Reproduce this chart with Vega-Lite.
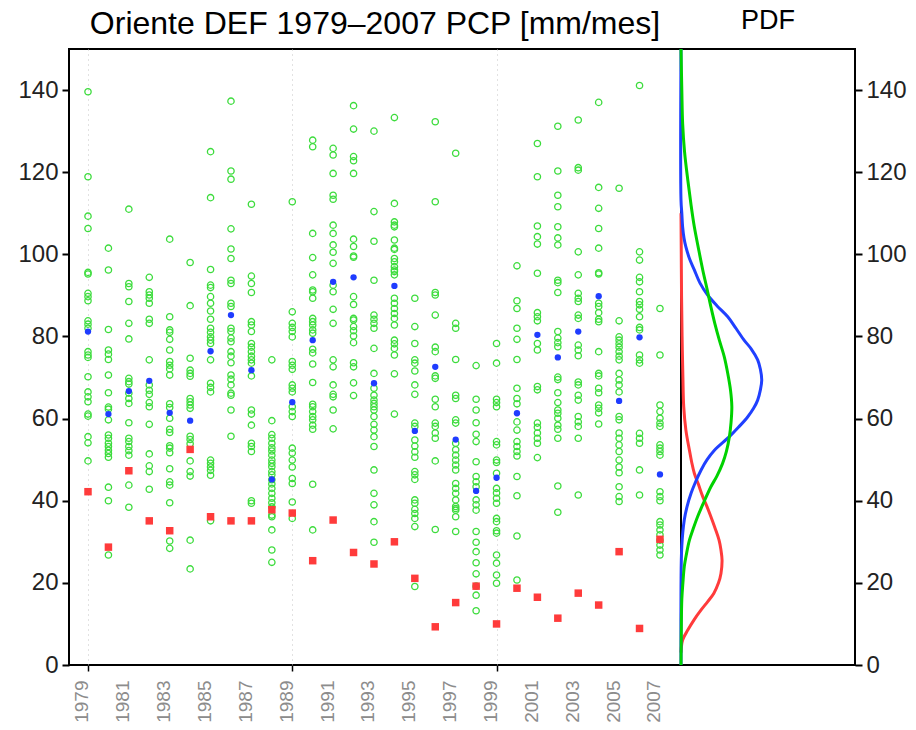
{
"$schema": "https://vega.github.io/schema/vega-lite/v6.json",
"background": "white",
"padding": {"left": 16, "top": 6, "right": 4, "bottom": 4},
"bounds": "flush",
"spacing": 0,
"config": {"view": {"stroke": "black", "strokeWidth": 2}, "font": "Liberation Sans"},
"datasets": {
"pts": [
{"x":1979,"v":139.6},{"x":1979,"v":118.9},{"x":1979,"v":109.3},{"x":1979,"v":106.3},{"x":1979,"v":95.6},{"x":1979,"v":95.2},{"x":1979,"v":90.5},{"x":1979,"v":89.7},{"x":1979,"v":88.7},{"x":1979,"v":83.8},{"x":1979,"v":83.0},{"x":1979,"v":82.0},{"x":1979,"v":76.3},{"x":1979,"v":75.5},{"x":1979,"v":74.9},{"x":1979,"v":70.2},{"x":1979,"v":66.5},{"x":1979,"v":65.3},{"x":1979,"v":64.1},{"x":1979,"v":61.1},{"x":1979,"v":60.6},{"x":1979,"v":55.6},{"x":1979,"v":54.1},{"x":1979,"v":49.7},
{"x":1980,"v":101.5},{"x":1980,"v":96.2},{"x":1980,"v":81.7},{"x":1980,"v":76.7},{"x":1980,"v":75.7},{"x":1980,"v":74.4},{"x":1980,"v":70.6},{"x":1980,"v":66.3},{"x":1980,"v":62.8},{"x":1980,"v":62.3},{"x":1980,"v":59.7},{"x":1980,"v":56.0},{"x":1980,"v":55.2},{"x":1980,"v":54.0},{"x":1980,"v":53.2},{"x":1980,"v":52.3},{"x":1980,"v":51.5},{"x":1980,"v":50.6},{"x":1980,"v":43.3},{"x":1980,"v":40.0},{"x":1980,"v":26.8},
{"x":1981,"v":111.0},{"x":1981,"v":92.9},{"x":1981,"v":92.1},{"x":1981,"v":88.5},{"x":1981,"v":83.2},{"x":1981,"v":79.4},{"x":1981,"v":69.8},{"x":1981,"v":69.0},{"x":1981,"v":68.4},{"x":1981,"v":66.2},{"x":1981,"v":64.9},{"x":1981,"v":63.7},{"x":1981,"v":59.0},{"x":1981,"v":55.2},{"x":1981,"v":54.4},{"x":1981,"v":53.2},{"x":1981,"v":52.2},{"x":1981,"v":51.1},{"x":1981,"v":43.8},{"x":1981,"v":38.4},
{"x":1982,"v":94.4},{"x":1982,"v":90.9},{"x":1982,"v":90.1},{"x":1982,"v":89.3},{"x":1982,"v":88.1},{"x":1982,"v":84.2},{"x":1982,"v":83.2},{"x":1982,"v":74.3},{"x":1982,"v":68.2},{"x":1982,"v":66.9},{"x":1982,"v":65.9},{"x":1982,"v":63.9},{"x":1982,"v":62.9},{"x":1982,"v":58.6},{"x":1982,"v":51.4},{"x":1982,"v":48.5},{"x":1982,"v":47.1},{"x":1982,"v":42.8},
{"x":1983,"v":103.7},{"x":1983,"v":84.8},{"x":1983,"v":81.6},{"x":1983,"v":81.0},{"x":1983,"v":79.3},{"x":1983,"v":76.7},{"x":1983,"v":73.9},{"x":1983,"v":73.0},{"x":1983,"v":72.1},{"x":1983,"v":70.6},{"x":1983,"v":63.6},{"x":1983,"v":62.7},{"x":1983,"v":60.1},{"x":1983,"v":57.4},{"x":1983,"v":56.6},{"x":1983,"v":53.4},{"x":1983,"v":52.8},{"x":1983,"v":51.7},{"x":1983,"v":47.8},{"x":1983,"v":44.6},{"x":1983,"v":43.8},{"x":1983,"v":39.5},{"x":1983,"v":30.2},{"x":1983,"v":28.4},
{"x":1984,"v":98.0},{"x":1984,"v":87.5},{"x":1984,"v":74.7},{"x":1984,"v":71.8},{"x":1984,"v":71.0},{"x":1984,"v":70.3},{"x":1984,"v":64.9},{"x":1984,"v":64.1},{"x":1984,"v":63.3},{"x":1984,"v":62.5},{"x":1984,"v":55.7},{"x":1984,"v":54.9},{"x":1984,"v":53.9},{"x":1984,"v":49.7},{"x":1984,"v":47.1},{"x":1984,"v":46.0},{"x":1984,"v":30.4},{"x":1984,"v":23.4},
{"x":1985,"v":125.0},{"x":1985,"v":113.8},{"x":1985,"v":96.3},{"x":1985,"v":92.5},{"x":1985,"v":91.9},{"x":1985,"v":89.7},{"x":1985,"v":88.1},{"x":1985,"v":86.2},{"x":1985,"v":84.2},{"x":1985,"v":82.0},{"x":1985,"v":81.0},{"x":1985,"v":79.9},{"x":1985,"v":79.1},{"x":1985,"v":78.3},{"x":1985,"v":74.3},{"x":1985,"v":68.6},{"x":1985,"v":67.6},{"x":1985,"v":66.5},{"x":1985,"v":49.9},{"x":1985,"v":49.1},{"x":1985,"v":48.2},{"x":1985,"v":47.4},{"x":1985,"v":46.2},{"x":1985,"v":35.1},
{"x":1986,"v":137.3},{"x":1986,"v":120.3},{"x":1986,"v":118.3},{"x":1986,"v":106.2},{"x":1986,"v":101.3},{"x":1986,"v":99.0},{"x":1986,"v":93.7},{"x":1986,"v":92.9},{"x":1986,"v":88.1},{"x":1986,"v":87.3},{"x":1986,"v":82.0},{"x":1986,"v":81.2},{"x":1986,"v":79.6},{"x":1986,"v":78.7},{"x":1986,"v":76.3},{"x":1986,"v":75.2},{"x":1986,"v":73.6},{"x":1986,"v":70.6},{"x":1986,"v":69.6},{"x":1986,"v":68.2},{"x":1986,"v":66.2},{"x":1986,"v":65.7},{"x":1986,"v":62.1},{"x":1986,"v":55.7},
{"x":1987,"v":112.2},{"x":1987,"v":94.7},{"x":1987,"v":92.9},{"x":1987,"v":90.7},{"x":1987,"v":83.6},{"x":1987,"v":82.8},{"x":1987,"v":81.2},{"x":1987,"v":78.3},{"x":1987,"v":77.4},{"x":1987,"v":76.3},{"x":1987,"v":75.2},{"x":1987,"v":74.3},{"x":1987,"v":73.5},{"x":1987,"v":70.4},{"x":1987,"v":62.1},{"x":1987,"v":61.1},{"x":1987,"v":58.4},{"x":1987,"v":54.0},{"x":1987,"v":53.2},{"x":1987,"v":52.0},{"x":1987,"v":40.0},{"x":1987,"v":39.4},
{"x":1988,"v":74.3},{"x":1988,"v":59.5},{"x":1988,"v":56.1},{"x":1988,"v":55.2},{"x":1988,"v":54.0},{"x":1988,"v":52.9},{"x":1988,"v":52.1},{"x":1988,"v":51.1},{"x":1988,"v":49.9},{"x":1988,"v":49.1},{"x":1988,"v":48.3},{"x":1988,"v":47.1},{"x":1988,"v":46.3},{"x":1988,"v":45.1},{"x":1988,"v":44.1},{"x":1988,"v":43.0},{"x":1988,"v":41.8},{"x":1988,"v":40.6},{"x":1988,"v":39.5},{"x":1988,"v":38.5},{"x":1988,"v":36.5},{"x":1988,"v":36.1},{"x":1988,"v":32.9},{"x":1988,"v":28.0},{"x":1988,"v":25.0},
{"x":1989,"v":112.8},{"x":1989,"v":86.0},{"x":1989,"v":83.2},{"x":1989,"v":82.2},{"x":1989,"v":81.2},{"x":1989,"v":79.9},{"x":1989,"v":73.9},{"x":1989,"v":73.0},{"x":1989,"v":72.0},{"x":1989,"v":68.2},{"x":1989,"v":67.4},{"x":1989,"v":66.5},{"x":1989,"v":62.9},{"x":1989,"v":61.7},{"x":1989,"v":60.5},{"x":1989,"v":52.8},{"x":1989,"v":51.6},{"x":1989,"v":49.9},{"x":1989,"v":48.2},{"x":1989,"v":45.4},{"x":1989,"v":44.2},{"x":1989,"v":39.7},{"x":1989,"v":35.7},
{"x":1990,"v":127.8},{"x":1990,"v":126.2},{"x":1990,"v":105.1},{"x":1990,"v":99.2},{"x":1990,"v":95.0},{"x":1990,"v":91.3},{"x":1990,"v":90.9},{"x":1990,"v":89.3},{"x":1990,"v":84.4},{"x":1990,"v":83.6},{"x":1990,"v":82.8},{"x":1990,"v":81.6},{"x":1990,"v":80.8},{"x":1990,"v":76.9},{"x":1990,"v":76.0},{"x":1990,"v":73.3},{"x":1990,"v":68.8},{"x":1990,"v":63.5},{"x":1990,"v":62.9},{"x":1990,"v":61.7},{"x":1990,"v":60.5},{"x":1990,"v":59.7},{"x":1990,"v":58.4},{"x":1990,"v":57.4},{"x":1990,"v":44.0},{"x":1990,"v":32.9},
{"x":1991,"v":125.8},{"x":1991,"v":124.2},{"x":1991,"v":119.7},{"x":1991,"v":114.4},{"x":1991,"v":113.4},{"x":1991,"v":107.1},{"x":1991,"v":105.1},{"x":1991,"v":102.3},{"x":1991,"v":100.5},{"x":1991,"v":97.8},{"x":1991,"v":92.5},{"x":1991,"v":90.9},{"x":1991,"v":86.6},{"x":1991,"v":83.2},{"x":1991,"v":74.3},{"x":1991,"v":72.6},{"x":1991,"v":68.2},{"x":1991,"v":65.9},{"x":1991,"v":65.3},{"x":1991,"v":62.1},{"x":1991,"v":57.5},
{"x":1992,"v":136.2},{"x":1992,"v":130.5},{"x":1992,"v":123.8},{"x":1992,"v":122.8},{"x":1992,"v":119.7},{"x":1992,"v":103.7},{"x":1992,"v":101.9},{"x":1992,"v":99.6},{"x":1992,"v":99.3},{"x":1992,"v":89.7},{"x":1992,"v":87.8},{"x":1992,"v":84.4},{"x":1992,"v":84.0},{"x":1992,"v":82.4},{"x":1992,"v":81.4},{"x":1992,"v":80.1},{"x":1992,"v":78.5},{"x":1992,"v":73.6},{"x":1992,"v":72.6},{"x":1992,"v":68.7},{"x":1992,"v":65.6},
{"x":1993,"v":130.0},{"x":1993,"v":110.4},{"x":1993,"v":103.2},{"x":1993,"v":93.7},{"x":1993,"v":85.2},{"x":1993,"v":84.2},{"x":1993,"v":83.2},{"x":1993,"v":82.0},{"x":1993,"v":77.1},{"x":1993,"v":71.0},{"x":1993,"v":67.4},{"x":1993,"v":65.7},{"x":1993,"v":64.5},{"x":1993,"v":63.7},{"x":1993,"v":62.9},{"x":1993,"v":62.1},{"x":1993,"v":60.5},{"x":1993,"v":58.6},{"x":1993,"v":57.2},{"x":1993,"v":55.6},{"x":1993,"v":53.2},{"x":1993,"v":47.5},{"x":1993,"v":41.8},{"x":1993,"v":39.0},{"x":1993,"v":34.9},{"x":1993,"v":29.9},
{"x":1994,"v":133.3},{"x":1994,"v":112.4},{"x":1994,"v":107.9},{"x":1994,"v":107.1},{"x":1994,"v":106.7},{"x":1994,"v":103.5},{"x":1994,"v":101.5},{"x":1994,"v":101.2},{"x":1994,"v":99.0},{"x":1994,"v":98.2},{"x":1994,"v":97.0},{"x":1994,"v":96.2},{"x":1994,"v":95.8},{"x":1994,"v":95.0},{"x":1994,"v":89.3},{"x":1994,"v":88.1},{"x":1994,"v":86.8},{"x":1994,"v":85.6},{"x":1994,"v":84.4},{"x":1994,"v":82.8},{"x":1994,"v":79.1},{"x":1994,"v":78.2},{"x":1994,"v":77.1},{"x":1994,"v":75.5},{"x":1994,"v":70.9},{"x":1994,"v":61.1},
{"x":1995,"v":89.3},{"x":1995,"v":82.4},{"x":1995,"v":78.3},{"x":1995,"v":74.3},{"x":1995,"v":73.5},{"x":1995,"v":71.6},{"x":1995,"v":68.2},{"x":1995,"v":65.9},{"x":1995,"v":58.9},{"x":1995,"v":58.1},{"x":1995,"v":54.8},{"x":1995,"v":53.3},{"x":1995,"v":51.9},{"x":1995,"v":50.6},{"x":1995,"v":47.1},{"x":1995,"v":46.3},{"x":1995,"v":45.2},{"x":1995,"v":40.2},{"x":1995,"v":39.4},{"x":1995,"v":37.9},{"x":1995,"v":36.9},{"x":1995,"v":35.7},{"x":1995,"v":33.7},{"x":1995,"v":19.1},
{"x":1996,"v":132.3},{"x":1996,"v":112.8},{"x":1996,"v":90.7},{"x":1996,"v":90.1},{"x":1996,"v":85.2},{"x":1996,"v":77.4},{"x":1996,"v":76.3},{"x":1996,"v":70.4},{"x":1996,"v":69.8},{"x":1996,"v":64.7},{"x":1996,"v":62.9},{"x":1996,"v":58.9},{"x":1996,"v":58.1},{"x":1996,"v":56.5},{"x":1996,"v":55.2},{"x":1996,"v":49.7},{"x":1996,"v":33.0},
{"x":1997,"v":124.6},{"x":1997,"v":83.2},{"x":1997,"v":82.0},{"x":1997,"v":74.4},{"x":1997,"v":65.7},{"x":1997,"v":64.9},{"x":1997,"v":59.7},{"x":1997,"v":58.9},{"x":1997,"v":54.0},{"x":1997,"v":52.4},{"x":1997,"v":51.1},{"x":1997,"v":49.9},{"x":1997,"v":48.7},{"x":1997,"v":47.5},{"x":1997,"v":44.2},{"x":1997,"v":43.0},{"x":1997,"v":41.8},{"x":1997,"v":40.2},{"x":1997,"v":38.6},{"x":1997,"v":38.1},{"x":1997,"v":37.7},{"x":1997,"v":36.1},{"x":1997,"v":32.5},
{"x":1998,"v":72.9},{"x":1998,"v":64.7},{"x":1998,"v":62.1},{"x":1998,"v":59.0},{"x":1998,"v":56.2},{"x":1998,"v":54.4},{"x":1998,"v":49.5},{"x":1998,"v":45.9},{"x":1998,"v":44.6},{"x":1998,"v":43.4},{"x":1998,"v":40.2},{"x":1998,"v":39.0},{"x":1998,"v":37.7},{"x":1998,"v":32.5},{"x":1998,"v":29.9},{"x":1998,"v":27.6},{"x":1998,"v":24.9},{"x":1998,"v":22.2},{"x":1998,"v":19.2},{"x":1998,"v":17.0},{"x":1998,"v":13.2},
{"x":1999,"v":78.3},{"x":1999,"v":73.5},{"x":1999,"v":64.7},{"x":1999,"v":63.9},{"x":1999,"v":62.9},{"x":1999,"v":54.4},{"x":1999,"v":53.6},{"x":1999,"v":49.9},{"x":1999,"v":49.3},{"x":1999,"v":46.7},{"x":1999,"v":43.0},{"x":1999,"v":41.9},{"x":1999,"v":40.6},{"x":1999,"v":39.4},{"x":1999,"v":35.7},{"x":1999,"v":34.9},{"x":1999,"v":32.7},{"x":1999,"v":32.1},{"x":1999,"v":26.8},{"x":1999,"v":24.8},{"x":1999,"v":21.9},{"x":1999,"v":19.9},
{"x":2000,"v":97.2},{"x":2000,"v":88.7},{"x":2000,"v":86.8},{"x":2000,"v":82.0},{"x":2000,"v":79.3},{"x":2000,"v":74.4},{"x":2000,"v":67.4},{"x":2000,"v":64.9},{"x":2000,"v":63.6},{"x":2000,"v":59.2},{"x":2000,"v":57.2},{"x":2000,"v":54.4},{"x":2000,"v":53.2},{"x":2000,"v":52.0},{"x":2000,"v":50.9},{"x":2000,"v":45.9},{"x":2000,"v":41.2},{"x":2000,"v":31.4},{"x":2000,"v":20.7},
{"x":2001,"v":127.0},{"x":2001,"v":118.9},{"x":2001,"v":106.9},{"x":2001,"v":104.3},{"x":2001,"v":102.5},{"x":2001,"v":95.4},{"x":2001,"v":85.8},{"x":2001,"v":84.8},{"x":2001,"v":83.8},{"x":2001,"v":78.3},{"x":2001,"v":76.7},{"x":2001,"v":67.8},{"x":2001,"v":67.0},{"x":2001,"v":58.9},{"x":2001,"v":57.9},{"x":2001,"v":56.5},{"x":2001,"v":55.2},{"x":2001,"v":54.0},{"x":2001,"v":50.5},
{"x":2002,"v":131.2},{"x":2002,"v":120.3},{"x":2002,"v":114.4},{"x":2002,"v":111.6},{"x":2002,"v":106.7},{"x":2002,"v":104.0},{"x":2002,"v":102.3},{"x":2002,"v":93.7},{"x":2002,"v":93.1},{"x":2002,"v":90.7},{"x":2002,"v":81.2},{"x":2002,"v":79.6},{"x":2002,"v":78.5},{"x":2002,"v":77.5},{"x":2002,"v":70.1},{"x":2002,"v":69.5},{"x":2002,"v":66.3},{"x":2002,"v":63.9},{"x":2002,"v":62.1},{"x":2002,"v":61.3},{"x":2002,"v":60.1},{"x":2002,"v":58.4},{"x":2002,"v":57.4},{"x":2002,"v":55.2},{"x":2002,"v":43.6},{"x":2002,"v":37.2},
{"x":2003,"v":132.7},{"x":2003,"v":121.1},{"x":2003,"v":120.5},{"x":2003,"v":100.6},{"x":2003,"v":95.0},{"x":2003,"v":90.5},{"x":2003,"v":89.3},{"x":2003,"v":88.5},{"x":2003,"v":85.2},{"x":2003,"v":84.4},{"x":2003,"v":77.9},{"x":2003,"v":76.7},{"x":2003,"v":75.3},{"x":2003,"v":68.9},{"x":2003,"v":68.2},{"x":2003,"v":65.7},{"x":2003,"v":64.5},{"x":2003,"v":60.5},{"x":2003,"v":59.2},{"x":2003,"v":58.1},{"x":2003,"v":55.2},{"x":2003,"v":41.4},
{"x":2004,"v":137.0},{"x":2004,"v":116.3},{"x":2004,"v":111.2},{"x":2004,"v":106.3},{"x":2004,"v":101.5},{"x":2004,"v":95.5},{"x":2004,"v":95.2},{"x":2004,"v":88.1},{"x":2004,"v":87.3},{"x":2004,"v":85.8},{"x":2004,"v":84.2},{"x":2004,"v":83.6},{"x":2004,"v":76.3},{"x":2004,"v":71.0},{"x":2004,"v":70.4},{"x":2004,"v":67.4},{"x":2004,"v":66.3},{"x":2004,"v":63.3},{"x":2004,"v":62.5},{"x":2004,"v":61.4},{"x":2004,"v":58.7},
{"x":2005,"v":116.1},{"x":2005,"v":83.8},{"x":2005,"v":79.9},{"x":2005,"v":79.1},{"x":2005,"v":78.2},{"x":2005,"v":77.4},{"x":2005,"v":76.3},{"x":2005,"v":75.2},{"x":2005,"v":74.3},{"x":2005,"v":71.0},{"x":2005,"v":69.4},{"x":2005,"v":68.2},{"x":2005,"v":66.5},{"x":2005,"v":60.5},{"x":2005,"v":59.7},{"x":2005,"v":56.5},{"x":2005,"v":55.2},{"x":2005,"v":53.6},{"x":2005,"v":52.0},{"x":2005,"v":49.9},{"x":2005,"v":48.2},{"x":2005,"v":46.8},{"x":2005,"v":43.4},{"x":2005,"v":41.0},{"x":2005,"v":39.8},
{"x":2006,"v":141.1},{"x":2006,"v":100.6},{"x":2006,"v":98.6},{"x":2006,"v":94.4},{"x":2006,"v":93.3},{"x":2006,"v":90.9},{"x":2006,"v":88.5},{"x":2006,"v":87.7},{"x":2006,"v":86.6},{"x":2006,"v":84.8},{"x":2006,"v":82.2},{"x":2006,"v":81.6},{"x":2006,"v":75.5},{"x":2006,"v":74.3},{"x":2006,"v":73.5},{"x":2006,"v":56.4},{"x":2006,"v":55.2},{"x":2006,"v":54.0},{"x":2006,"v":47.5},{"x":2006,"v":41.4},
{"x":2007,"v":86.8},{"x":2007,"v":75.5},{"x":2007,"v":63.3},{"x":2007,"v":61.7},{"x":2007,"v":60.1},{"x":2007,"v":58.9},{"x":2007,"v":58.1},{"x":2007,"v":53.6},{"x":2007,"v":52.8},{"x":2007,"v":52.0},{"x":2007,"v":51.1},{"x":2007,"v":42.2},{"x":2007,"v":41.0},{"x":2007,"v":40.0},{"x":2007,"v":34.9},{"x":2007,"v":34.1},{"x":2007,"v":32.9},{"x":2007,"v":31.7},{"x":2007,"v":30.4},{"x":2007,"v":29.2},{"x":2007,"v":28.0},{"x":2007,"v":26.8}
],
"mean": [
{"x":1979,"v":81.2},{"x":1980,"v":61.1},{"x":1981,"v":66.7},{"x":1982,"v":69.2},{"x":1983,"v":61.4},{"x":1984,"v":59.5},{"x":1985,"v":76.4},{"x":1986,"v":85.2},{"x":1987,"v":71.8},{"x":1988,"v":45.2},{"x":1989,"v":64.0},{"x":1990,"v":79.1},{"x":1991,"v":93.3},{"x":1992,"v":94.4},{"x":1993,"v":68.6},{"x":1994,"v":92.3},{"x":1995,"v":57.0},{"x":1996,"v":72.6},{"x":1997,"v":54.9},{"x":1998,"v":42.4},{"x":1999,"v":45.6},{"x":2000,"v":61.3},{"x":2001,"v":80.4},{"x":2002,"v":74.9},{"x":2003,"v":81.2},{"x":2004,"v":89.8},{"x":2005,"v":64.3},{"x":2006,"v":79.8},{"x":2007,"v":46.4}
],
"red": [
{"x":1979,"v":42.2},{"x":1980,"v":28.7},{"x":1981,"v":47.3},{"x":1982,"v":35.1},{"x":1983,"v":32.7},{"x":1984,"v":52.5},{"x":1985,"v":36.1},{"x":1986,"v":35.1},{"x":1987,"v":35.1},{"x":1988,"v":37.8},{"x":1989,"v":37.0},{"x":1990,"v":25.4},{"x":1991,"v":35.3},{"x":1992,"v":27.4},{"x":1993,"v":24.6},{"x":1994,"v":30.0},{"x":1995,"v":21.1},{"x":1996,"v":9.3},{"x":1997,"v":15.2},{"x":1998,"v":19.2},{"x":1999,"v":10.0},{"x":2000,"v":18.7},{"x":2001,"v":16.5},{"x":2002,"v":11.4},{"x":2003,"v":17.5},{"x":2004,"v":14.6},{"x":2005,"v":27.6},{"x":2006,"v":8.9},{"x":2007,"v":30.6}
],
"pdf": [
{"s":"red","v":3,"d":0},{"s":"red","v":6.1,"d":0.0006},{"s":"red","v":8.5,"d":0.0025},{"s":"red","v":11,"d":0.0048},{"s":"red","v":13.4,"d":0.0074},{"s":"red","v":15.5,"d":0.0099},{"s":"red","v":17.5,"d":0.0121},{"s":"red","v":20,"d":0.0138},{"s":"red","v":22.3,"d":0.0147},{"s":"red","v":25.5,"d":0.0151},{"s":"red","v":28,"d":0.0147},{"s":"red","v":30.4,"d":0.014},{"s":"red","v":33,"d":0.0127},{"s":"red","v":36.1,"d":0.011},{"s":"red","v":38.5,"d":0.0096},{"s":"red","v":41,"d":0.008},{"s":"red","v":44,"d":0.0064},{"s":"red","v":46.7,"d":0.0049},{"s":"red","v":49.5,"d":0.0039},{"s":"red","v":52.3,"d":0.0031},{"s":"red","v":57.2,"d":0.0018},{"s":"red","v":62.9,"d":0.001},{"s":"red","v":70,"d":0.0007},{"s":"red","v":80,"d":0.0004},{"s":"red","v":90,"d":0.0002},{"s":"red","v":100,"d":0.0001},{"s":"red","v":110,"d":0},
{"s":"blue","v":0,"d":0},{"s":"blue","v":19,"d":0},{"s":"blue","v":29,"d":0.0003},{"s":"blue","v":35.3,"d":0.0012},{"s":"blue","v":38.5,"d":0.0022},{"s":"blue","v":41.8,"d":0.0037},{"s":"blue","v":44.5,"d":0.0053},{"s":"blue","v":47.5,"d":0.0074},{"s":"blue","v":50,"d":0.0096},{"s":"blue","v":52.3,"d":0.0123},{"s":"blue","v":55.6,"d":0.0178},{"s":"blue","v":58,"d":0.0213},{"s":"blue","v":60.4,"d":0.0245},{"s":"blue","v":62.5,"d":0.0267},{"s":"blue","v":64.5,"d":0.0282},{"s":"blue","v":67,"d":0.0292},{"s":"blue","v":69.4,"d":0.0297},{"s":"blue","v":72,"d":0.0292},{"s":"blue","v":74.3,"d":0.0282},{"s":"blue","v":77,"d":0.0258},{"s":"blue","v":79.1,"d":0.0232},{"s":"blue","v":82,"d":0.0202},{"s":"blue","v":84.8,"d":0.0172},{"s":"blue","v":87.5,"d":0.0132},{"s":"blue","v":90.1,"d":0.0098},{"s":"blue","v":93,"d":0.007},{"s":"blue","v":96.2,"d":0.0049},{"s":"blue","v":99,"d":0.0031},{"s":"blue","v":101.8,"d":0.0018},{"s":"blue","v":104,"d":0.0011},{"s":"blue","v":106.7,"d":0.0006},{"s":"blue","v":110,"d":0.0003},{"s":"blue","v":113.2,"d":0},{"s":"blue","v":150,"d":0},
{"s":"green","v":0,"d":0},{"s":"green","v":8,"d":0.0001},{"s":"green","v":16,"d":0.0003},{"s":"green","v":20,"d":0.0007},{"s":"green","v":23.9,"d":0.0012},{"s":"green","v":27,"d":0.002},{"s":"green","v":30.4,"d":0.0031},{"s":"green","v":33,"d":0.0044},{"s":"green","v":36.1,"d":0.0061},{"s":"green","v":39.5,"d":0.0083},{"s":"green","v":43.4,"d":0.011},{"s":"green","v":46,"d":0.0132},{"s":"green","v":49.1,"d":0.0153},{"s":"green","v":52,"d":0.0167},{"s":"green","v":55.6,"d":0.0178},{"s":"green","v":59,"d":0.0184},{"s":"green","v":62.9,"d":0.0187},{"s":"green","v":67,"d":0.0182},{"s":"green","v":71,"d":0.0172},{"s":"green","v":75.1,"d":0.0159},{"s":"green","v":79.1,"d":0.0141},{"s":"green","v":83,"d":0.0125},{"s":"green","v":87.2,"d":0.011},{"s":"green","v":91.5,"d":0.0096},{"s":"green","v":96.2,"d":0.008},{"s":"green","v":101.5,"d":0.0064},{"s":"green","v":106.7,"d":0.0049},{"s":"green","v":112,"d":0.0037},{"s":"green","v":118.1,"d":0.0025},{"s":"green","v":125,"d":0.0013},{"s":"green","v":131.9,"d":0.0006},{"s":"green","v":140,"d":0.0003},{"s":"green","v":150,"d":0}
]
},
"hconcat": [
{
"width": 612,
"height": 616,
"title": {"text": "Oriente DEF 1979–2007 PCP [mm/mes]", "fontSize": 32, "fontWeight": "normal", "anchor": "middle", "frame": "group", "offset": 8, "color": "black", "font": "Liberation Sans"},
"layer": [
{
"data": {"name": "pts"},
"mark": {"type": "point", "shape": "circle", "filled": false, "stroke": "#3ddc3d", "strokeWidth": 1.3, "size": 40, "opacity": 1},
"encoding": {
"x": {"field": "x", "type": "quantitative", "scale": {"domain": [1978.07, 2008.03], "nice": false, "zero": false},
"axis": {"values": [1979,1980,1981,1982,1983,1984,1985,1986,1987,1988,1989,1990,1991,1992,1993,1994,1995,1996,1997,1998,1999,2000,2001,2002,2003,2004,2005,2006,2007],
"labelExpr": "(datum.value - 1979) % 2 == 0 ? '' + datum.value : ''",
"labelAngle": 270, "labelAlign": "right", "labelBaseline": "alphabetic", "labelFontSize": 19, "labelColor": "#8c8c8c", "labelPadding": 9, "labelOverlap": false, "labelFlush": false, "labelBound": false,
"tickSize": 6, "tickWidth": 1.5,
"tickColor": {"condition": {"test": "(datum.value - 1979) % 5 == 0", "value": "black"}, "value": "transparent"},
"grid": true, "gridDash": [1, 4], "gridWidth": 1,
"gridColor": {"condition": {"test": "(datum.value - 1979) % 5 == 0", "value": "#c4c4c4"}, "value": "transparent"},
"domain": false, "title": null}},
"y": {"field": "v", "type": "quantitative", "scale": {"domain": [0, 150], "nice": false, "zero": true},
"axis": {"values": [0,20,40,60,80,100,120,140], "tickSize": 7, "tickWidth": 2, "tickColor": "black", "labelFontSize": 24, "labelColor": "#222222", "labelPadding": 4, "domain": false, "grid": false, "title": null}}
}
},
{
"data": {"name": "red"},
"mark": {"type": "point", "shape": "square", "filled": true, "color": "#ff3b3b", "size": 56, "opacity": 1},
"encoding": {"x": {"field": "x", "type": "quantitative"}, "y": {"field": "v", "type": "quantitative"}}
},
{
"data": {"name": "mean"},
"mark": {"type": "point", "shape": "circle", "filled": true, "color": "#1f3cff", "size": 40, "opacity": 1},
"encoding": {"x": {"field": "x", "type": "quantitative"}, "y": {"field": "v", "type": "quantitative"}}
}
]
},
{
"width": 174,
"height": 616,
"title": {"text": "PDF", "fontSize": 27, "fontWeight": "normal", "anchor": "middle", "frame": "group", "offset": 8, "color": "black", "font": "Liberation Sans"},
"data": {"name": "pdf"},
"mark": {"type": "line", "strokeWidth": 3, "interpolate": "catmull-rom"},
"encoding": {
"x": {"field": "d", "type": "quantitative", "scale": {"domain": [0, 0.064], "nice": false, "zero": true}, "axis": null},
"y": {"field": "v", "type": "quantitative", "scale": {"domain": [0, 150], "nice": false},
"axis": {"orient": "right", "values": [0,20,40,60,80,100,120,140], "tickSize": 7, "tickWidth": 2, "tickColor": "black", "labelFontSize": 24, "labelColor": "#222222", "labelPadding": 4, "domain": false, "grid": false, "title": null}},
"color": {"field": "s", "type": "nominal", "scale": {"domain": ["red", "blue", "green"], "range": ["#ff3b3b", "#2040ff", "#00d200"]}, "legend": null},
"order": {"field": "v", "type": "quantitative"}
}
}
]
}
